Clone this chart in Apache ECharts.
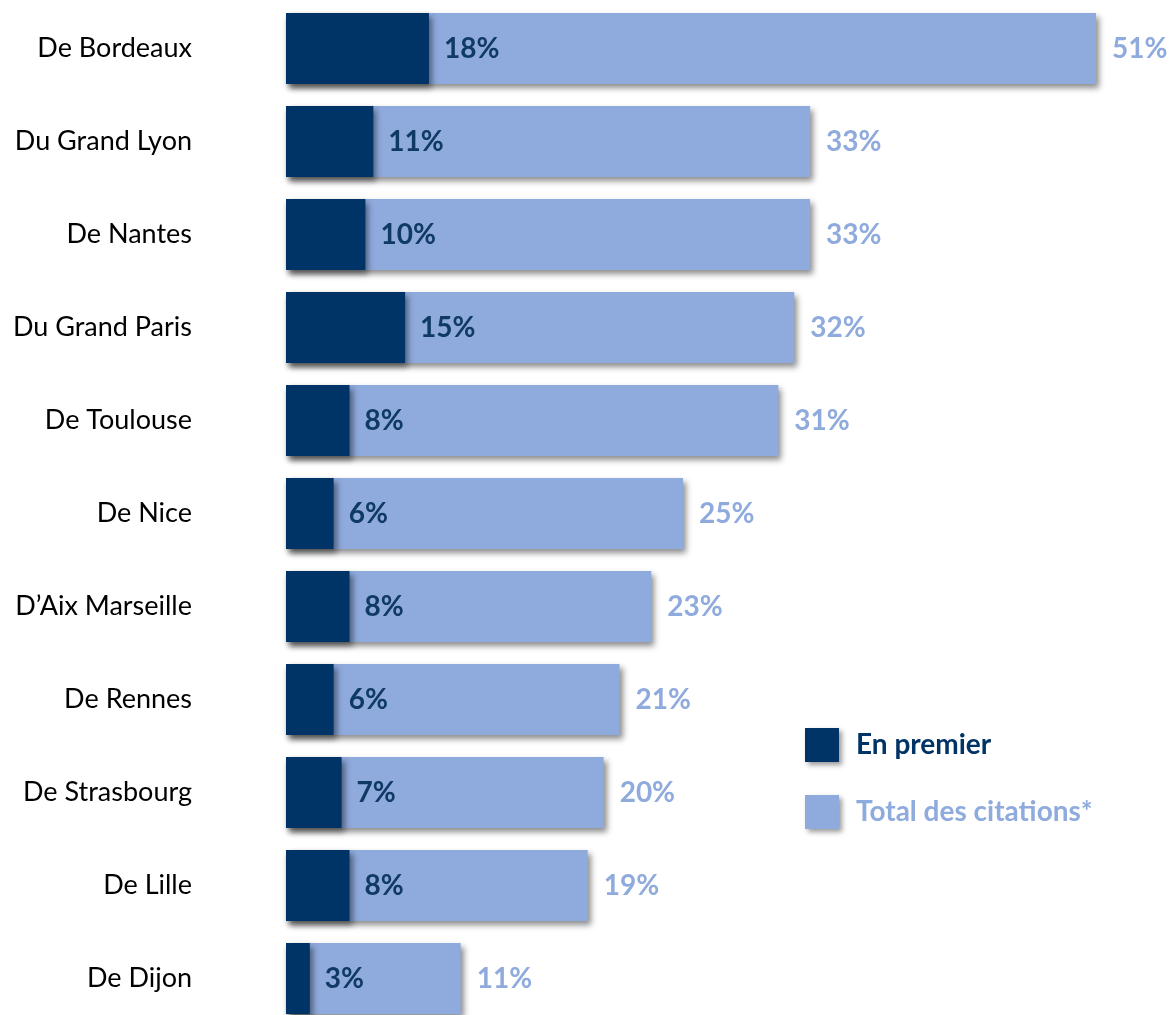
<!DOCTYPE html>
<html>
<head>
<meta charset="utf-8">
<script src="https://cdn.jsdelivr.net/npm/echarts@6/dist/echarts.min.js"></script>
<style>html,body{margin:0;padding:0;background:#fff}#c{width:1172px;height:1015px}</style>
</head>
<body>
<div id="c"></div>
<script>
const categories = ["De Bordeaux","Du Grand Lyon","De Nantes","Du Grand Paris","De Toulouse","De Nice","D\u2019Aix Marseille","De Rennes","De Strasbourg","De Lille","De Dijon"];
const totalCitations = [51,33,33,32,31,25,23,21,20,19,11];
const enPremier = [18,11,10,15,8,6,8,6,7,8,3];
const seriesNames = ["En premier","Total des citations*"];

const DARK = "#003366";
const LIGHT = "#8faadc";
const FONT = "Lato";
const shadow = {shadowColor:"rgba(0,0,0,0.45)", shadowBlur:6, shadowOffsetX:3, shadowOffsetY:4};

const chart = echarts.init(document.getElementById('c'));
chart.setOption({
  animation:false,
  grid:{left:286, top:48.5, bottom:36.5, right:12.5, containLabel:false},
  legend:{
    orient:'vertical', left:800, top:723, itemWidth:34, itemHeight:34, itemGap:33,
    icon:'rect',
    itemStyle:{shadowColor:"rgba(0,0,0,0.4)", shadowBlur:5, shadowOffsetX:3, shadowOffsetY:3},
    textStyle:{fontFamily:FONT, fontWeight:'bold', fontSize:28, padding:[0,0,0,12]},
    data:[
      {name:seriesNames[0], textStyle:{color:DARK}},
      {name:seriesNames[1], textStyle:{color:LIGHT}}
    ]
  },
  xAxis:[
    {type:'value', min:0, max:55, show:false},
    {type:'value', min:0, max:110, show:false}
  ],
  yAxis:{
    type:'category', inverse:true, data:categories, boundaryGap:false,
    axisLine:{show:false}, axisTick:{show:false}, splitLine:{show:false},
    axisLabel:{margin:94, color:'#000', fontFamily:FONT, fontSize:27}
  },
  series:[
    {
      name:seriesNames[1], type:'bar', xAxisIndex:0, data:totalCitations,
      barWidth:71, barGap:'-100%',
      itemStyle:Object.assign({color:LIGHT}, shadow),
      label:{show:true, position:'right', distance:16, formatter:'{c}%', color:LIGHT, fontFamily:FONT, fontWeight:'bold', fontSize:28}
    },
    {
      name:seriesNames[0], type:'bar', xAxisIndex:1, data:enPremier,
      barWidth:71, barGap:'-100%',
      itemStyle:Object.assign({color:DARK}, shadow),
      label:{show:true, position:'right', distance:15, formatter:'{c}%', color:'#0f3a66', fontFamily:FONT, fontWeight:'bold', fontSize:28}
    }
  ]
});
</script>
</body>
</html>
